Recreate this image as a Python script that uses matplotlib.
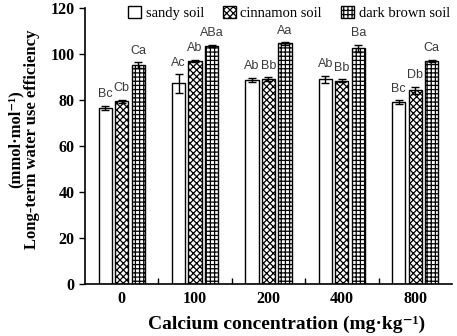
import matplotlib.pyplot as plt
import numpy as np

# 数据
concentrations = ["0", "100", "200", "400", "800"]
soils = ["sandy soil", "cinnamon soil", "dark brown soil"]

sandy = [76.5, 87.2, 88.7, 89.0, 79.0]
sandy_err = [1.0, 4.0, 1.0, 1.5, 0.8]
cinnamon = [79.5, 97.0, 89.0, 88.4, 84.3]
cinnamon_err = [0.6, 0.4, 0.8, 0.6, 1.5]
dark = [95.2, 103.6, 104.6, 102.5, 97.1]
dark_err = [1.2, 0.5, 0.5, 1.5, 0.4]

sandy_lbl = ["Bc", "Ac", "Ab", "Ab", "Bc"]
cinnamon_lbl = ["Cb", "Ab", "Bb", "Bb", "Db"]
dark_lbl = ["Ca", "ABa", "Aa", "Ba", "Ca"]

plt.rcParams["hatch.linewidth"] = 0.9

fig = plt.figure(figsize=(4.57, 3.36), dpi=100)
ax = fig.add_axes([0.186, 0.155, 0.803, 0.821])

x = np.arange(len(concentrations))
width = 0.18
step = 0.225

series = [
    (sandy, sandy_err, sandy_lbl, ""),
    (cinnamon, cinnamon_err, cinnamon_lbl, "xxxxx"),
    (dark, dark_err, dark_lbl, "++++"),
]

for i, (vals, errs, lbls, hatch) in enumerate(series):
    pos = x + (i - 1) * step
    ax.bar(pos, vals, width, color="white", edgecolor="black", linewidth=1.0,
           hatch=hatch, label=soils[i], zorder=2)
    ax.errorbar(pos, vals, yerr=errs, fmt="none", ecolor="black",
                elinewidth=1.0, capsize=3, capthick=1.0, zorder=3)
    for p, v, e, t in zip(pos, vals, errs, lbls):
        ax.text(p, v + e + 2.5, t, ha="center", va="bottom",
                fontsize=9, family="Liberation Sans", color="#3a3a3a")

# 坐标轴
ax.set_xlim(-0.5, 4.5)
ax.set_ylim(0, 120)
ax.set_yticks(np.arange(0, 121, 20))
ax.set_xticks(x)
ax.set_xticklabels(concentrations)
ax.set_xticks(x[:-1] + 0.5, minor=True)
ax.tick_params(axis="x", which="major", length=0, pad=5)
ax.tick_params(axis="x", which="minor", direction="in", length=4, width=1)
ax.tick_params(axis="y", direction="out", length=4, width=1)

for lab in ax.get_xticklabels() + ax.get_yticklabels():
    lab.set_family("Liberation Serif")
    lab.set_fontweight("bold")
    lab.set_fontsize(11.5)

ax.spines["top"].set_visible(False)
ax.spines["right"].set_visible(False)
ax.spines["left"].set_linewidth(1.2)
ax.spines["bottom"].set_linewidth(1.2)

# 轴标签（手动放置）
serif = ["Liberation Serif", "DejaVu Serif"]
fig.text(0.628, 0.008, "Calcium concentration (mg·kg⁻¹)",
         family=serif, fontweight="bold", fontsize=14,
         ha="center", va="bottom")
fig.text(0.052, 0.586,
         "(mmol·mol⁻¹)\nLong-term water use efficiency",
         family=serif, fontweight="bold", fontsize=12,
         rotation=90, ha="center", va="center", multialignment="center",
         linespacing=1.1)

ax.legend(loc="upper right", bbox_to_anchor=(1.01, 1.03), ncol=3,
          frameon=False, prop={"family": "Liberation Serif", "size": 10.5},
          handlelength=0.9, handleheight=0.9, handletextpad=0.3,
          columnspacing=1.3, borderaxespad=0)

fig.savefig("out.png", dpi=100)
